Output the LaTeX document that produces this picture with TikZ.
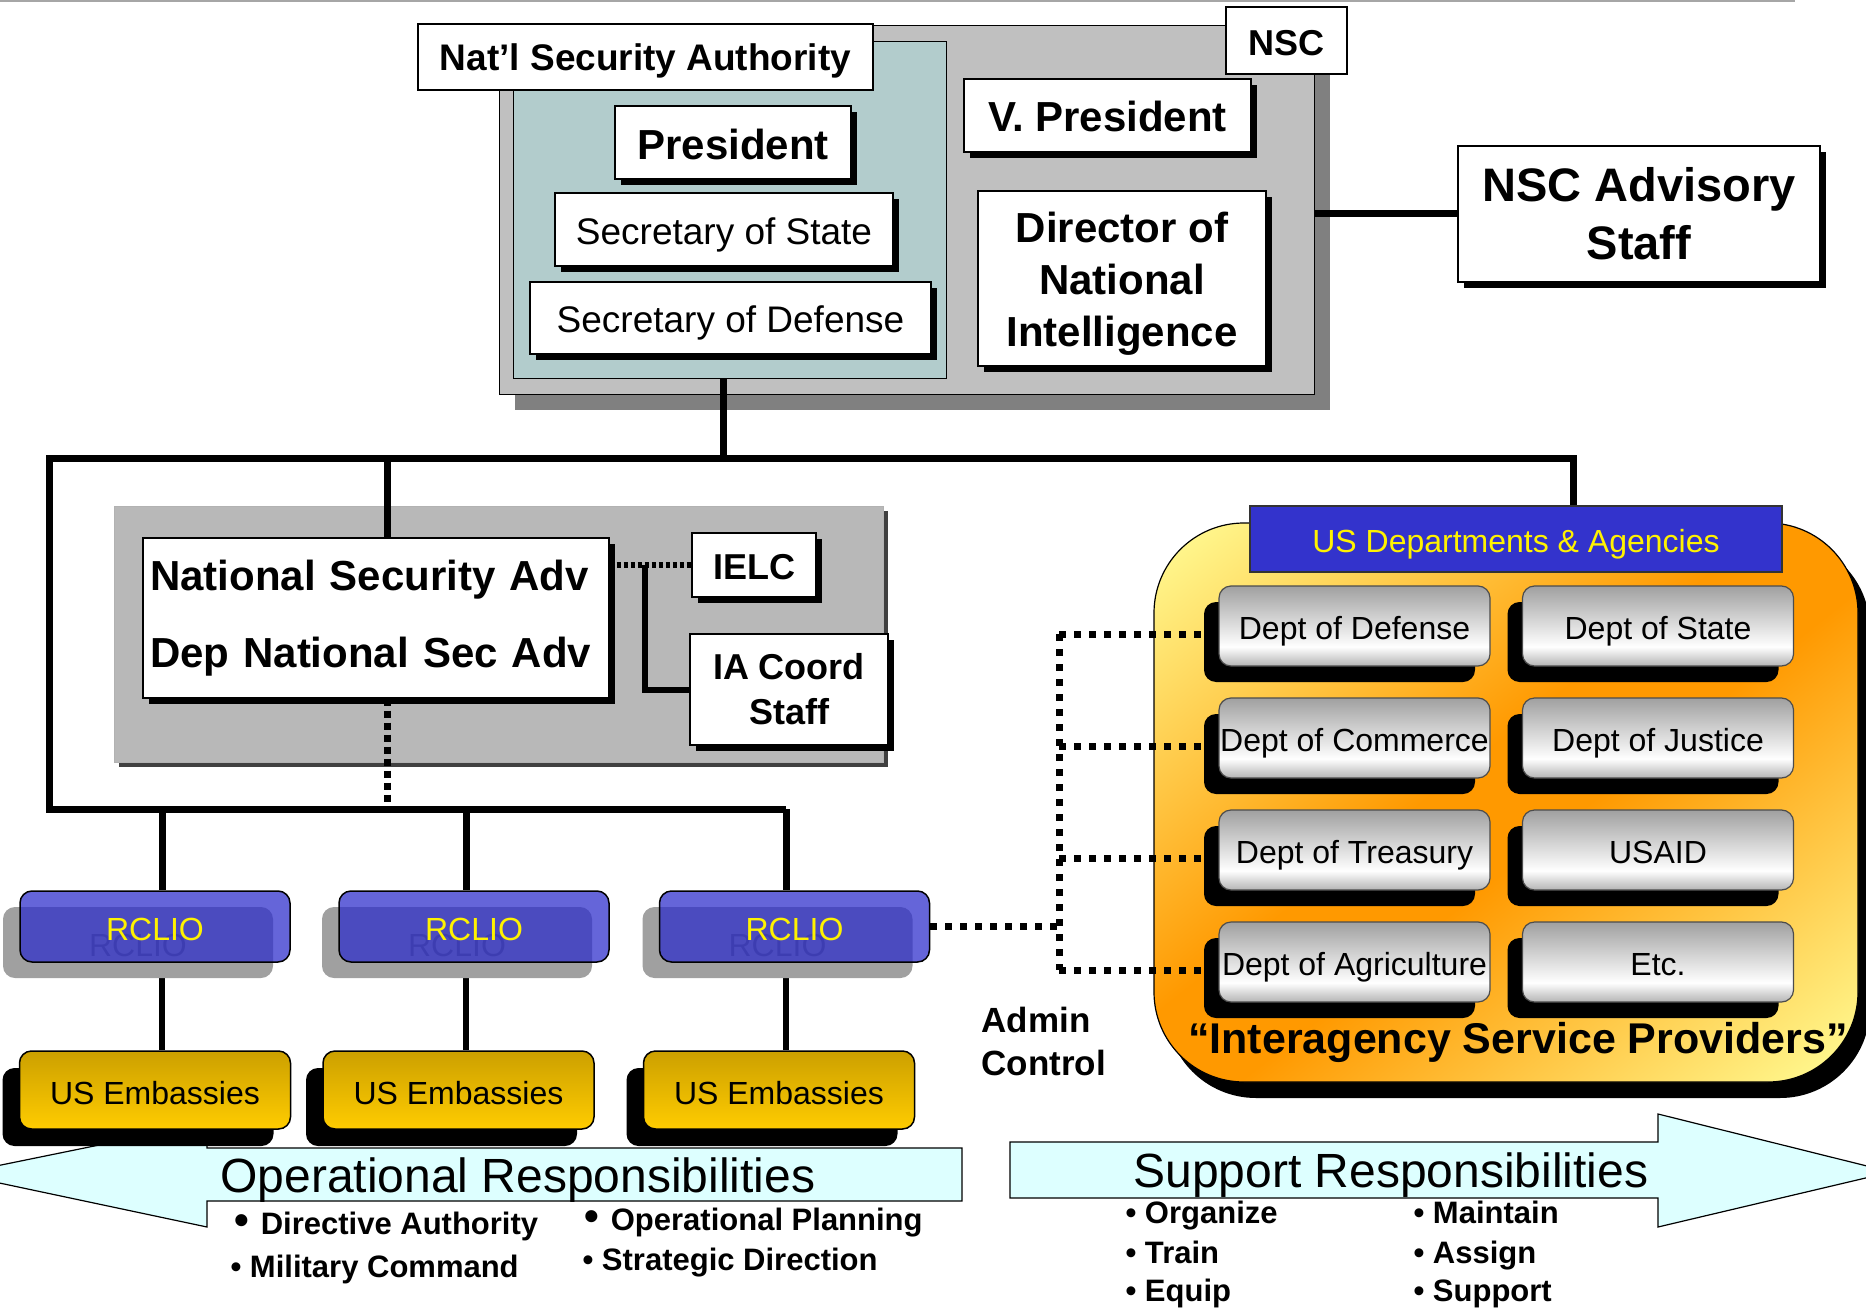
\documentclass[tikz,border=0pt]{standalone}
\usepackage{fontspec}
\setmainfont{Liberation Sans}
\usetikzlibrary{shadows}
\definecolor{nscgray}{RGB}{192,192,192}
\definecolor{nscshadow}{RGB}{128,128,128}
\definecolor{natlteal}{RGB}{178,204,204}
\definecolor{nsagray}{RGB}{184,184,184}
\definecolor{rcliofill}{RGB}{44,44,203}
\definecolor{rclioshade}{RGB}{160,160,160}
\definecolor{rclioghost}{RGB}{110,110,110}
\definecolor{embtop}{RGB}{204,160,0}
\definecolor{embbottom}{RGB}{255,204,0}
\definecolor{headblue}{RGB}{51,51,204}
\definecolor{ispyellow}{RGB}{255,255,153}
\definecolor{isporange}{RGB}{255,153,0}
\definecolor{arrowcyan}{RGB}{221,255,255}
\definecolor{depttop}{RGB}{160,160,160}
\definecolor{deptlow}{RGB}{180,180,180}
\pgfdeclareverticalshading{deptshade}{100bp}{color(0bp)=(deptlow); color(25bp)=(deptlow); color(37bp)=(white); color(75bp)=(depttop); color(100bp)=(depttop)}
\pgfdeclarehorizontalshading{ispshade}{100bp}{color(0bp)=(ispyellow); color(25bp)=(ispyellow); color(47bp)=(isporange); color(53bp)=(isporange); color(75bp)=(ispyellow); color(100bp)=(ispyellow)}
\pgfdeclarelayer{back}
\pgfdeclarelayer{links}
\pgfsetlayers{back,links,main}
\begin{document}
\begin{tikzpicture}[x=1pt,y=-1pt,
  box/.style={draw, fill=white, line width=1.2pt, inner sep=0pt, align=center},
  oneline/.style={text height=#1, text depth=0pt},
  dropblack/.style={drop shadow={shadow xshift=6pt, shadow yshift=-6pt, opacity=1, fill=black}},
  bigbold/.style={font=\fontsize{42}{52}\selectfont\bfseries},
  midbold/.style={font=\fontsize{36}{45}\selectfont\bfseries},
  plain/.style={font=\fontsize{37}{44}\selectfont},
  link/.style={line width=7pt},
  dotlink/.style={line width=7pt, dash pattern=on 7pt off 8pt},
  rcliobox/.style={draw, line width=1.5pt, rounded corners=12pt, fill=rcliofill, fill opacity=0.73, text opacity=1, text=yellow, minimum width=270pt, minimum height=71pt, oneline=28pt, font=\fontsize{32}{38}\selectfont},
  embbox/.style={draw, line width=1.5pt, rounded corners=12pt, top color=embtop, bottom color=embbottom, minimum width=271pt, minimum height=78pt, oneline=28pt, font=\fontsize{32}{38}\selectfont, drop shadow={shadow xshift=-17pt, shadow yshift=-17pt, opacity=1, fill=black}},
  deptbox/.style={draw=black!70, line width=1.2pt, rounded corners=12pt, shade, shading=deptshade, minimum width=271pt, minimum height=80pt, inner sep=0pt, oneline=27pt, font=\fontsize{32}{38}\selectfont, drop shadow={shadow xshift=-15pt, shadow yshift=-16pt, opacity=1, fill=black}},
  bullet/.style={anchor=base west, font=\fontsize{31}{36}\selectfont\bfseries}]
\useasboundingbox (0,0) rectangle (1866,1308);
\begin{pgfonlayer}{back}
\draw[gray!70, line width=2pt] (0,1) -- (1795,1);
\node[draw, line width=1pt, fill=nscgray, minimum width=815pt, minimum height=368pt, inner sep=0pt, drop shadow={shadow xshift=16pt, shadow yshift=-16pt, opacity=1, fill=nscshadow}] (nscgrp) at (906.5,210) {};
\node[draw, line width=1pt, fill=natlteal, minimum width=433pt, minimum height=336pt, inner sep=0pt] (natl) at (729.5,210) {};
\node[draw=gray!60, line width=1pt, fill=nsagray, minimum width=769pt, minimum height=256pt, inner sep=0pt, drop shadow={shadow xshift=5pt, shadow yshift=-5pt, opacity=1, fill=black!75}] (nsagrp) at (498.5,634) {};
\fill[black, rounded corners=90pt] (1166,539) rectangle (1870,1098);
\begin{scope}
\clip[rounded corners=90pt] (1154,523) rectangle (1858,1082);
\begin{scope}[transform canvas={shift={(1506,802.5)}, xscale=3.52, yscale=2.795, rotate=-45}]
\shade[shading=ispshade] (-141.5,-141.5) rectangle (141.5,141.5);
\end{scope}
\end{scope}
\draw[line width=1.2pt, rounded corners=90pt] (1154,523) rectangle (1858,1082);
\filldraw[fill=arrowcyan, draw=black, line width=1.2pt] (962,1148) -- (207,1148) -- (207,1123) -- (-43,1174) -- (207,1227) -- (207,1201) -- (962,1201) -- cycle;
\filldraw[fill=arrowcyan, draw=black, line width=1.2pt] (1010,1142) -- (1658,1142) -- (1658,1114) -- (1891,1172) -- (1658,1227) -- (1658,1198) -- (1010,1198) -- cycle;
\end{pgfonlayer}
\node[box, oneline=27pt, font=\fontsize{37}{44}\selectfont\bfseries, minimum width=455pt, minimum height=66pt] (natlname) at (645.5,57) {Nat’l Security Authority};
\node[box, dropblack, bigbold, oneline=34pt, minimum width=236pt, minimum height=73pt] (pres) at (733,142.5) {President};
\node[box, dropblack, plain, oneline=29pt, minimum width=338pt, minimum height=73pt] (secstate) at (724,229.5) {Secretary of State};
\node[box, dropblack, plain, oneline=29pt, minimum width=401pt, minimum height=72pt] (secdef) at (730.5,318) {Secretary of Defense};
\node[box, midbold, oneline=29.5pt, minimum width=121pt, minimum height=67pt] (nsc) at (1286.5,40.5) {NSC};
\node[box, dropblack, bigbold, oneline=33pt, minimum width=287pt, minimum height=73pt] (vp) at (1107.5,115.5) {V. President};
\node[box, dropblack, bigbold, minimum width=288pt, minimum height=175pt] (dni) at (1122,278.5) {\rule{0pt}{41pt}Director of\\National\\Intelligence};
\node[box, dropblack, font=\fontsize{47}{58}\selectfont\bfseries, minimum width=362pt, minimum height=136pt] (nscadv) at (1639,214) {NSC Advisory\\Staff};
\node[box, dropblack, font=\fontsize{42}{77}\selectfont\bfseries, align=left, text width=452pt, minimum width=466pt, minimum height=160pt] (nsadv) at (376,618) {National Security Adv\\Dep National Sec Adv};
\node[box, dropblack, midbold, oneline=28.5pt, minimum width=124pt, minimum height=64pt] (ielc) at (754,565) {IELC};
\node[box, dropblack, midbold, minimum width=198pt, minimum height=111pt] (iacoord) at (789,689.5) {IA Coord\\Staff};
\foreach \i/\x in {1/155,2/474,3/794.5} {
  \fill[rclioshade, rounded corners=12pt] (\x-152,907) rectangle (\x+118,978);
  \node[text=rclioghost, oneline=28pt, font=\fontsize{32}{38}\selectfont] (ghost\i) at (\x-17,942.5) {RCLIO};
  \node[rcliobox] (rclio\i) at (\x,926.5) {RCLIO};
}
\foreach \i/\x in {1/155,2/458.5,3/779} \node[embbox] (emb\i) at (\x,1090) {US Embassies};
\node[draw=black!80, line width=1.2pt, fill=headblue, text=yellow, minimum width=532pt, minimum height=66pt, oneline=26pt, font=\fontsize{32}{38}\selectfont] (usda) at (1516,539) {US Departments \& Agencies};
\foreach \n/\x/\y/\t in {dod/1354.5/626/Dept of Defense,dos/1658/626/Dept of State,doc/1354.5/738/Dept of Commerce,doj/1658/738/Dept of Justice,dot/1354.5/850/Dept of Treasury,usaid/1658/850/USAID,doa/1354.5/962/Dept of Agriculture,etc/1658/962/Etc.} \node[deptbox] (\n) at (\x,\y) {\t};
\node[anchor=base, font=\fontsize{43}{50}\selectfont\bfseries] (ispname) at (1518,1053) {“Interagency Service Providers”};
\node[anchor=west, align=left, font=\fontsize{35}{43}\selectfont\bfseries] (admin) at (978,1041) {Admin\\Control};
\node[anchor=base, font=\fontsize{48}{56}\selectfont] (oplabel) at (518,1192) {Operational Responsibilities};
\node[anchor=base, font=\fontsize{48}{56}\selectfont] (suplabel) at (1391,1187) {Support Responsibilities};
\foreach \n/\x/\y/\t in {opa/231/1234/Directive Authority,opb/581/1230/Operational Planning} \node[bullet] (\n) at (\x,\y) {{\fontsize{42}{42}\selectfont •}\hspace{3pt} \t};
\foreach \n/\x/\y/\t in {opc/227/1277/Military Command,opd/579/1270/Strategic Direction,supa/1122/1223/Organize,supb/1122/1263/Train,supc/1122/1301/Equip,supd/1410/1223/Maintain,supe/1410/1263/Assign,supf/1410/1301/Support} \node[bullet] (\n) at (\x,\y) {• \t};
\begin{pgfonlayer}{links}
\coordinate (jtop) at (723,458);
\coordinate (busL) at (49,458);
\coordinate (busR) at (1573,458);
\coordinate (lowL) at (49,809);
\coordinate (jnsa) at (387,458);
\coordinate (jlow) at (387,809);
\coordinate (jia) at (645,565);
\coordinate (adm) at (1059,0);
\foreach \i/\x in {1/162,2/466,3/786} \coordinate (tap\i) at (\x,809);
\draw[link] (natl.south -| jtop) -- (jtop);
\draw[link] (tap3) -- (lowL) -- (busL) -- (busR) -- (busR |- usda.north);
\draw[link] (nscgrp.east |- nscadv.west) -- (nscadv.west);
\draw[link] (jnsa) -- (jnsa |- nsadv.north);
\draw[line width=7pt, dash pattern=on 7pt off 5pt] (jnsa |- nsadv.south) -- (jlow);
\draw[line width=6pt, dash pattern=on 4pt off 3pt] (nsadv.east |- ielc.west) -- (ielc.west);
\draw[line width=6pt] (jia) |- (iacoord.west);
\foreach \i in {1,2,3} \draw[link] (tap\i) -- (tap\i |- rclio\i.north);
\foreach \i in {1,2,3} \draw[line width=6pt] (tap\i |- rclio\i.south) -- (tap\i |- emb\i.north);
\foreach \n in {dod,doc,dot,doa} \coordinate (t\n) at ([yshift=-8pt]\n.west);
\draw[dotlink] (rclio3.east) -- (rclio3.east -| adm);
\draw[dotlink] (tdod -| adm) -- (tdoa -| adm);
\foreach \n in {dod,doc,dot,doa} \draw[dotlink] (t\n -| adm) -- (t\n);
\end{pgfonlayer}
\end{tikzpicture}
\end{document}
